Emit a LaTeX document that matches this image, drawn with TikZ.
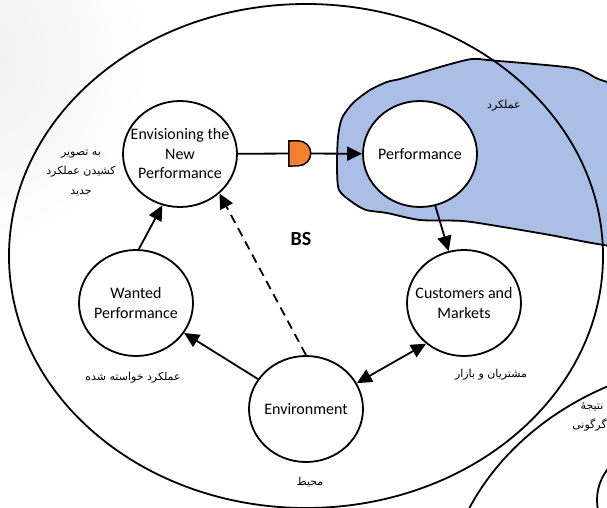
\documentclass[tikz,border=0pt]{standalone}
\usepackage{fontspec}
\setmainfont{Carlito}
\newfontfamily\fafont[Script=Arabic]{DejaVu Sans}
\TeXXeTstate=1
\usetikzlibrary{arrows.meta,shapes.geometric}
\definecolor{blobblue}{RGB}{170,190,230}
\definecolor{gateorange}{RGB}{245,128,48}
\newcommand{\rtl}[1]{\beginR #1\endR}

\begin{document}
\begin{tikzpicture}[x=1pt,y=-1pt,
  stage/.style={ellipse, draw, line width=1.8pt, fill=white,
    minimum width=114pt, minimum height=106pt, inner sep=0pt},
  stagetext/.style={align=center, font=\fontsize{16}{19.5}\selectfont},
  falabel/.style={align=center, font=\fafont\fontsize{11}{19.5}\selectfont},
  outline/.style={line width=1.8pt},
  link/.style={line width=1.8pt, -{Triangle[length=15pt,width=14pt]}},
  twoway/.style={line width=1.8pt, {Triangle[length=15pt,width=14pt]}-{Triangle[length=15pt,width=14pt]}},
  gatebox/.style={minimum width=22pt, minimum height=25pt, inner sep=0pt}
]
\useasboundingbox (0,0) rectangle (607,508);
\clip (0,0) rectangle (607,508);

% soft grey corner of the slide
\shade[inner color=black!7, outer color=white] (-40,60) circle (190);

% performance region
\filldraw[fill=blobblue, outline] plot[smooth cycle, tension=0.45] coordinates {
  (660,250) (604,245) (550,235) (503,227) (463,221) (420,220) (387,213)
  (366,210) (352,202) (339,190) (337,167) (338,137) (342,118) (353,103)
  (370,90) (387,82) (400,79) (420,73) (447,65) (472,59) (493,60.5)
  (573,68) (596,78) (607,82) (660,100)};

% business system boundary and the neighbouring system
\draw[outline] (306,256) ellipse [x radius=297, y radius=252];
\draw[outline] (740,612) ellipse [x radius=297, y radius=252];

% stages
\node[stage, label={[stagetext]center:Envisioning the\\New\\Performance}] (envis) at (180,154) {};
\node[stage, label={[stagetext]center:Performance}] (perf) at (420,154) {};
\node[stage, label={[stagetext]center:Wanted\\Performance}] (wanted) at (136,303) {};
\node[stage, label={[stagetext]center:Customers and\\Markets}] (cust) at (464,303) {};
\node[stage, label={[stagetext]center:Environment}] (envir) at (306,409) {};
\node[stage] (result) at (654,500) {};

% gate on the way to performance
\node[gatebox] (gate) at (300,153.5) {};
\filldraw[fill=gateorange, line width=1.4pt]
  (gate.north west) -- ++(9.5,0) arc[start angle=-90, end angle=90, radius=12.5]
  -- (gate.south west) -- cycle;

% connectors
\draw[outline] (envis) -- (gate);
\draw[link] (gate) -- (perf);
\draw[link] (perf) -- (cust);
\draw[link] (wanted.87) -- (envis.251);
\draw[link] (envir) -- (wanted);
\draw[twoway] (envir.27) -- (cust.227);
\draw[link, dash pattern=on 9pt off 6pt] (envir.north) -- (envis.-45);

% labels
\node[font=\bfseries\fontsize{20}{24}\selectfont] (bs) at (301,239) {BS};
\node[falabel] (fa-envis) at (81,173) {\rtl{به تصویر}\\\rtl{کشیدن عملکرد}\\\rtl{جدید}};
\node[falabel] (fa-perf) at (504,106) {\rtl{عملکرد}};
\node[falabel] (fa-wanted) at (133,378) {\rtl{عملکرد خواسته شده}};
\node[falabel] (fa-cust) at (491,375) {\rtl{مشتریان و بازار}};
\node[falabel] (fa-envir) at (310,482) {\rtl{محیط}};
\node[falabel] (fa-result) at (592,417) {\rtl{نتیجهٔ}\\\rtl{دگرگونی}};
\end{tikzpicture}
\end{document}
